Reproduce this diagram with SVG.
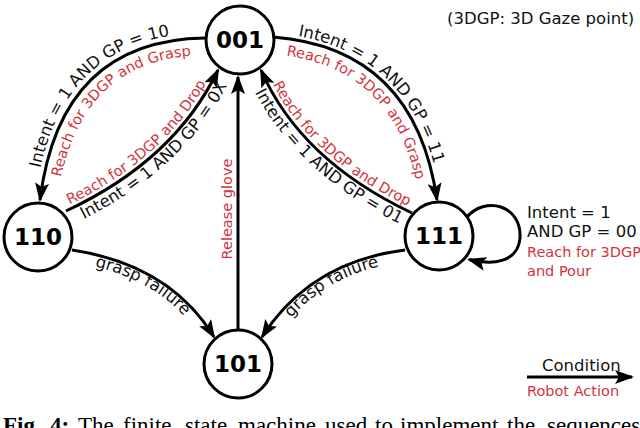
<svg xmlns="http://www.w3.org/2000/svg" xmlns:xlink="http://www.w3.org/1999/xlink" width="640" height="428" viewBox="0 0 640 428">
<style>
.edge{fill:none;stroke:#000;stroke-width:3}
.node circle{fill:#fff;stroke:#000;stroke-width:3}
.node text{font-family:"DejaVu Sans",sans-serif;font-weight:bold;font-size:23px;text-anchor:middle;fill:#000}
.cond{font-family:"DejaVu Sans",sans-serif;font-size:16.5px;fill:#111}
.act{font-family:"DejaVu Sans",sans-serif;font-size:14.5px;fill:#d1343f}
.cap{font-family:"Liberation Serif",serif;font-size:23px;fill:#000}
</style>
<defs>
<marker id="ah" markerUnits="userSpaceOnUse" markerWidth="20" markerHeight="14" refX="17" refY="7" orient="auto">
<path d="M0,0 L19,7 L0,14 L4,7 z" fill="#000"/>
</marker>
<path id="p1o" d="M35,200 Q55,34 205,33"/>
<path id="p1i" d="M57,202 Q75,57 205,55"/>
<path id="p2r" d="M64,207 Q172,157 214,68"/>
<path id="p2b" d="M72,225 Q186,171 232,76"/>
<path id="p3o" d="M273,33 Q419,44 441,200"/>
<path id="p3i" d="M272,54 Q400,64 420,202"/>
<path id="p4r" d="M265,68 Q303,157 414,209"/>
<path id="p4b" d="M247,76 Q289,171 406,227"/>
<path id="p6" d="M70,262 Q164,275 203,342"/>
<path id="p7" d="M273,342 Q318,271 406,262"/>
</defs>
<rect width="640" height="428" fill="#fff"/>

<g id="connectors">
<path class="edge" d="M205,38 Q60,40 40,200" marker-end="url(#ah)"/>
<path class="edge" d="M66,211 Q175,160 218,70" marker-end="url(#ah)"/>
<path class="edge" d="M273,37 Q415,48 437,200" marker-end="url(#ah)"/>
<path class="edge" d="M412,213 Q300,160 261,70" marker-end="url(#ah)"/>
<path class="edge" d="M238,329 L238,77" marker-end="url(#ah)"/>
<path class="edge" d="M72,250 Q170,265 214,337" marker-end="url(#ah)"/>
<path class="edge" d="M405,250 Q310,262 262,337" marker-end="url(#ah)"/>
<path class="edge" d="M466,218 C485,195 522,205 520,238 C518,262 493,266 469,259.5" marker-end="url(#ah)"/>
<path class="edge" d="M527,377 L632,377" stroke-width="2.5" marker-end="url(#ah)"/>
</g>

<g id="edge-labels">
<text class="cond"><textPath xlink:href="#p1o" startOffset="32">Intent = 1 AND GP = 10</textPath></text>
<text class="act"><textPath xlink:href="#p1i" startOffset="25">Reach for 3DGP and Grasp</textPath></text>
<text class="act"><textPath xlink:href="#p2r" startOffset="6">Reach for 3DGP and Drop</textPath></text>
<text class="cond"><textPath xlink:href="#p2b" startOffset="13">Intent = 1 AND GP = 0X</textPath></text>
<text class="cond"><textPath xlink:href="#p3o" startOffset="25">Intent = 1 AND GP = 11</textPath></text>
<text class="act"><textPath xlink:href="#p3i" startOffset="14">Reach for 3DGP and Grasp</textPath></text>
<text class="act"><textPath xlink:href="#p4r" startOffset="18">Reach for 3DGP and Drop</textPath></text>
<text class="cond"><textPath xlink:href="#p4b" startOffset="18">Intent = 1 AND GP = 01</textPath></text>
<text class="cond"><textPath xlink:href="#p6" startOffset="25">grasp failure</textPath></text>
<text class="cond"><textPath xlink:href="#p7" startOffset="30">grasp failure</textPath></text>
<text class="act" font-size="14" text-anchor="middle" transform="translate(232,209) rotate(-90)">Release glove</text>
<text class="cond" x="527" y="218">Intent = 1</text>
<text class="cond" x="527" y="237">AND GP = 00</text>
<text class="act" x="527" y="257">Reach for 3DGP</text>
<text class="act" x="527" y="276">and Pour</text>
</g>

<g id="node-001" class="node"><circle cx="240" cy="40" r="34"/><text x="240" y="48">001</text></g>
<g id="node-110" class="node"><circle cx="38" cy="237" r="34"/><text x="38" y="245">110</text></g>
<g id="node-111" class="node"><circle cx="439" cy="236" r="34"/><text x="439" y="244">111</text></g>
<g id="node-101" class="node"><circle cx="238" cy="364" r="34"/><text x="238" y="372">101</text></g>

<g id="legend">
<text class="cond" x="542" y="371" font-size="14.5">Condition</text>
<text class="act" x="527" y="396" font-size="14">Robot Action</text>
<text class="cond" x="447" y="24">(3DGP: 3D Gaze point)</text>
</g>

<g id="caption" class="cap">
<text x="3" y="433" font-weight="bold">Fig.</text>
<text x="50" y="433" font-weight="bold">4:</text>
<text x="78" y="433">The</text>
<text x="123" y="433">finite</text>
<text x="185" y="433">state</text>
<text x="238" y="433">machine</text>
<text x="325" y="433">used</text>
<text x="375" y="433">to</text>
<text x="400" y="433">implement</text>
<text x="507" y="433">the</text>
<text x="547" y="433">sequences</text>
</g>
</svg>
